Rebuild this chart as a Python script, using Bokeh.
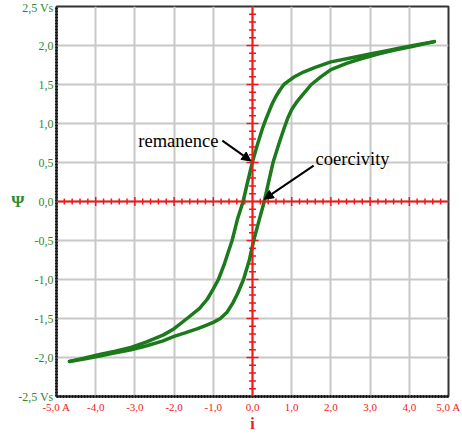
import numpy as np
from bokeh.plotting import figure
from bokeh.models import (Range1d, FixedTicker, Span, Label, Arrow, NormalHead,
                          LinearAxis)
from bokeh.embed import file_html
from bokeh.resources import INLINE

# ---- data ----
# upper (descending) branch, from positive tip to negative tip
upper_i = [4.64, 4.2, 3.8, 3.4, 3.0, 2.5, 2.0, 1.6, 1.3, 1.07, 0.93, 0.8, 0.7, 0.6,
           0.5, 0.41, 0.33, 0.25, 0.12, 0.0, -0.12, -0.24, -0.38, -0.45, -0.52, -0.62,
           -0.73, -0.87, -1.0, -1.15, -1.35, -1.67, -2.0, -2.27, -2.7, -3.1, -3.5,
           -3.9, -4.3, -4.67]
upper_psi = [2.05, 2.01, 1.97, 1.93, 1.89, 1.84, 1.79, 1.72, 1.66, 1.6, 1.55, 1.5, 1.43, 1.35,
             1.25, 1.14, 1.04, 0.93, 0.72, 0.51, 0.26, 0.0, -0.22, -0.36, -0.5, -0.65,
             -0.82, -1.0, -1.12, -1.25, -1.37, -1.5, -1.63, -1.71, -1.8, -1.87, -1.92,
             -1.96, -2.01, -2.05]
# lower (ascending) branch, from negative tip to positive tip
lower_i = [-4.67, -4.3, -3.9, -3.5, -3.1, -2.7, -2.3, -2.0, -1.7, -1.4, -1.2, -1.0,
           -0.82, -0.65, -0.5, -0.38, -0.23, -0.08, 0.03, 0.18, 0.3, 0.42, 0.53, 0.68,
           0.8, 0.9, 1.0, 1.12, 1.25, 1.5, 1.75, 2.0, 2.4, 2.77, 3.2, 3.6, 4.1, 4.64]
lower_psi = [-2.05, -2.02, -1.98, -1.94, -1.9, -1.85, -1.79, -1.73, -1.68, -1.63, -1.59, -1.55,
             -1.5, -1.42, -1.3, -1.18, -1.0, -0.75, -0.5, -0.22, 0.0, 0.27, 0.51, 0.75,
             0.93, 1.07, 1.18, 1.27, 1.35, 1.5, 1.6, 1.69, 1.77, 1.83, 1.89, 1.94, 1.99, 2.05]

x_ticks = [-5, -4, -3, -2, -1, 0, 1, 2, 3, 4, 5]
x_tick_labels = ["-5,0 A", "-4,0", "-3,0", "-2,0", "-1,0", "0,0", "1,0", "2,0", "3,0", "4,0", "5,0 A"]
y_ticks = [-2.5, -2.0, -1.5, -1.0, -0.5, 0.0, 0.5, 1.0, 1.5, 2.0, 2.5]
y_tick_labels = ["-2,5 Vs", "-2,0", "-1,5", "-1,0", "-0,5", "0,0", "0,5", "1,0", "1,5", "2,0", "2,5 Vs"]
x_title = "i"
y_title = "Ψ"

remanence_text = "remanence"
remanence_text_pos = (-0.87, 0.78)
remanence_arrow = (-0.77, 0.78, -0.04, 0.52)
coercivity_text = "coercivity"
coercivity_text_pos = (1.61, 0.55)
coercivity_arrow = (1.56, 0.46, 0.3, 0.03)

GREEN = "#1c7a1c"
LABEL_GREEN = "#2f8a2f"
RED = "#f01818"

p = figure(width=462, height=434, output_backend="svg", toolbar_location=None,
           x_range=Range1d(-5, 5), y_range=Range1d(-2.5, 2.5),
           min_border_left=56, min_border_right=14, min_border_top=6, min_border_bottom=35)
p.background_fill_color = "white"
p.border_fill_color = "white"
p.outline_line_color = "#333333"
p.outline_line_width = 2

# axes
p.xaxis.ticker = FixedTicker(ticks=x_ticks)
p.yaxis.ticker = FixedTicker(ticks=y_ticks)
p.xaxis.major_label_overrides = {t: l for t, l in zip(x_ticks, x_tick_labels)}
p.yaxis.major_label_overrides = {t: l for t, l in zip(y_ticks, y_tick_labels)}
for ax in (p.xaxis, p.yaxis):
    ax.major_tick_line_color = None
    ax.minor_tick_line_color = None
    ax.major_tick_out = 0
    ax.major_tick_in = 0
    ax.minor_tick_out = 0
    ax.minor_tick_in = 0
    ax.axis_line_color = "#1a1a1a"
    ax.axis_line_width = 3
    ax.axis_line_dash = "2 1"
    ax.major_label_text_font = "Liberation Serif"
p.xaxis.major_label_text_font_size = "11px"
p.yaxis.major_label_text_font_size = "12px"
p.xaxis.major_label_text_color = RED
p.yaxis.major_label_text_color = LABEL_GREEN
p.xaxis.major_label_standoff = 4
p.yaxis.major_label_standoff = 3
p.xaxis.axis_label = x_title
p.xaxis.axis_label_text_color = RED
p.xaxis.axis_label_text_font = "Liberation Serif"
p.xaxis.axis_label_text_font_size = "16px"
p.xaxis.axis_label_text_font_style = "bold"
p.xaxis.axis_label_standoff = -1

# Psi title as a second, tick-less left axis
psi_axis = LinearAxis(ticker=FixedTicker(ticks=[0.0]), major_label_overrides={0.0: y_title},
                      axis_line_color=None, major_tick_line_color=None,
                      minor_tick_line_color=None, major_tick_out=0, major_tick_in=0,
                      minor_tick_out=0, minor_tick_in=0, major_label_standoff=-9,
                      major_label_text_color=LABEL_GREEN, major_label_text_font="Liberation Serif",
                      major_label_text_font_size="17px", major_label_text_font_style="bold")
p.add_layout(psi_axis, "left")

# grid
p.xgrid.ticker = FixedTicker(ticks=x_ticks)
p.ygrid.ticker = FixedTicker(ticks=y_ticks)
for g in (p.xgrid, p.ygrid):
    g.grid_line_color = "#c8c8c8"
    g.grid_line_width = 2

# red crosshair
p.add_layout(Span(location=0, dimension="height", line_color=RED, line_width=2))
p.add_layout(Span(location=0, dimension="width", line_color=RED, line_width=2))
ymin = [round(v, 1) for v in np.arange(-2.4, 2.45, 0.1) if abs(round(v * 2) - v * 2) > 1e-6]
ymaj = [v for v in y_ticks if v != 0 and abs(v) < 2.5]
xmin = [round(v, 1) for v in np.arange(-4.8, 4.85, 0.2) if abs(round(v) - v) > 1e-6]
xmaj = [v for v in x_ticks if v != 0 and abs(v) < 5]
p.scatter(x=[0] * len(ymin), y=ymin, marker="dash", size=7, line_color=RED, line_width=1.5)
p.scatter(x=[0] * len(ymaj), y=ymaj, marker="dash", size=12, line_color=RED, line_width=1.5)
p.scatter(x=xmin, y=[0] * len(xmin), marker="dash", size=6, angle=np.pi / 2, line_color=RED, line_width=1.5)
p.scatter(x=xmaj, y=[0] * len(xmaj), marker="dash", size=9, angle=np.pi / 2, line_color=RED, line_width=1.5)

# curves
p.line(upper_i, upper_psi, line_color=GREEN, line_width=3.5, line_join="round", line_cap="round")
p.line(lower_i, lower_psi, line_color=GREEN, line_width=3.5, line_join="round", line_cap="round")

# annotations
for (x0, y0, x1, y1) in (remanence_arrow, coercivity_arrow):
    p.add_layout(Arrow(end=NormalHead(size=9, fill_color="black", line_color="black"),
                       x_start=x0, y_start=y0, x_end=x1, y_end=y1,
                       line_color="black", line_width=2))
p.add_layout(Label(x=remanence_text_pos[0], y=remanence_text_pos[1], text=remanence_text,
                   text_align="right", text_baseline="middle", text_font="Liberation Serif",
                   text_font_size="18.5px", text_color="black"))
p.add_layout(Label(x=coercivity_text_pos[0], y=coercivity_text_pos[1], text=coercivity_text,
                   text_align="left", text_baseline="middle", text_font="Liberation Serif",
                   text_font_size="18.5px", text_color="black"))

open("out.html", "w").write(file_html(p, INLINE))
